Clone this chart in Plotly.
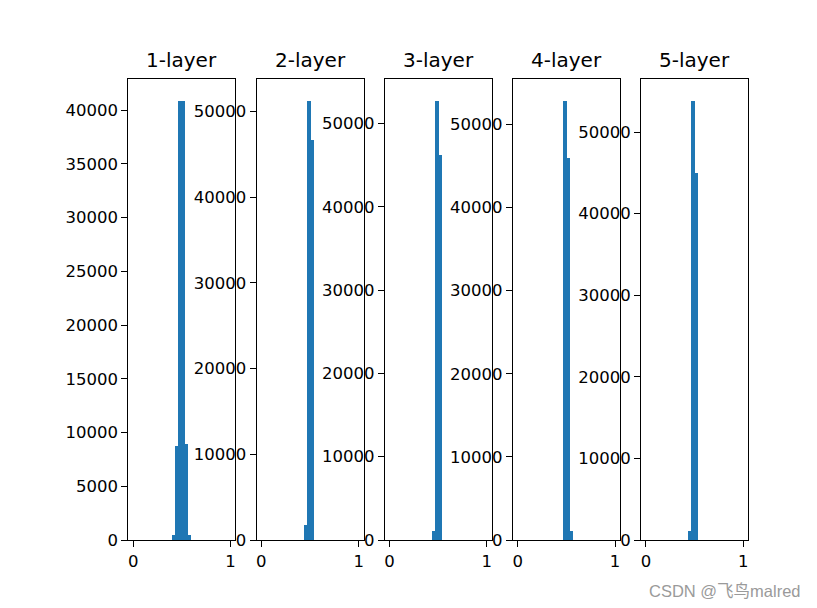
import numpy as np
import plotly.graph_objects as go

# ---- data ----
titles = ["1-layer", "2-layer", "3-layer", "4-layer", "5-layer"]
n_bins = 30
bin_lo, bin_hi = 0.0, 1.0

# histogram counts per bin index (only non-empty bins listed)
layer1_bins = [12, 13, 14, 15, 16, 17]
layer1_counts = [400, 8680, 40800, 40815, 8900, 400]
layer2_bins = [13, 14, 15]
layer2_counts = [1750, 51170, 46670]
layer3_bins = [13, 14, 15]
layer3_counts = [1040, 52670, 46220]
layer4_bins = [14, 15, 16]
layer4_counts = [52800, 45940, 1040]
layer5_bins = [13, 14, 15]
layer5_counts = [1070, 53770, 44980]

ytick_steps = [5000, 10000, 10000, 10000, 10000]
xtick_vals = [0, 1]
xtick_text = ["0", "1"]

all_bins = [layer1_bins, layer2_bins, layer3_bins, layer4_bins, layer5_bins]
all_counts = [layer1_counts, layer2_counts, layer3_counts, layer4_counts, layer5_counts]

# ---- layout geometry (pixels) ----
W, H = 817, 608
panel_left = [128.3, 256.5, 384.7, 512.9, 641.1]
panel_w = 107.0
panel_top, panel_bottom = 79.3, 540.0

edges = np.linspace(bin_lo, bin_hi, n_bins + 1)
bw = (bin_hi - bin_lo) / n_bins
blue = "#1f77b4"
font_family = "DejaVu Sans"

fig = go.Figure()
layout = dict(
    width=W, height=H,
    margin=dict(l=0, r=0, t=0, b=0, autoexpand=False),
    paper_bgcolor="white", plot_bgcolor="white",
    showlegend=False,
    font=dict(family=font_family, size=16.5, color="black"),
    bargap=0,
)
annotations = []
ydom = [1 - panel_bottom / H, 1 - panel_top / H]

for i in range(5):
    sfx = "" if i == 0 else str(i + 1)
    bins = all_bins[i]
    counts = all_counts[i]
    centers = [edges[b] + bw / 2 for b in bins]
    fig.add_trace(go.Bar(
        x=centers, y=counts, width=[bw] * len(bins),
        marker=dict(color=blue, line=dict(width=0)),
        xaxis="x" + sfx, yaxis="y" + sfx, hoverinfo="skip",
    ))
    xd = [panel_left[i] / W, (panel_left[i] + panel_w) / W]
    ymax = max(counts) * 1.05
    axis_common = dict(
        showline=True, mirror=True, linecolor="black", linewidth=1,
        ticks="outside", ticklen=6, tickwidth=1, tickcolor="black",
        showgrid=False, zeroline=False,
        tickfont=dict(family=font_family, size=16.5, color="black"),
    )
    layout["xaxis" + sfx] = dict(
        domain=xd, range=[-0.05, 1.05], anchor="y" + sfx,
        tickvals=xtick_vals, ticktext=xtick_text, **axis_common,
    )
    layout["yaxis" + sfx] = dict(
        domain=ydom, range=[0, ymax], anchor="x" + sfx,
        tick0=0, dtick=ytick_steps[i], tickformat="d", **axis_common,
    )
    annotations.append(dict(
        text=titles[i], xref="paper", yref="paper",
        x=(xd[0] + xd[1]) / 2, y=ydom[1], xanchor="center", yanchor="bottom",
        yshift=5, showarrow=False,
        font=dict(family=font_family, size=20, color="black"),
    ))

annotations.append(dict(
    text="CSDN @飞鸟malred", xref="paper", yref="paper",
    x=803 / W, y=1 - 591 / H, xanchor="right", yanchor="middle",
    showarrow=False,
    font=dict(family="Liberation Sans, Noto Sans CJK SC", size=16.5, color="#9a9a9a"),
))
layout["annotations"] = annotations
fig.update_layout(**layout)
fig.write_html("out.html")
